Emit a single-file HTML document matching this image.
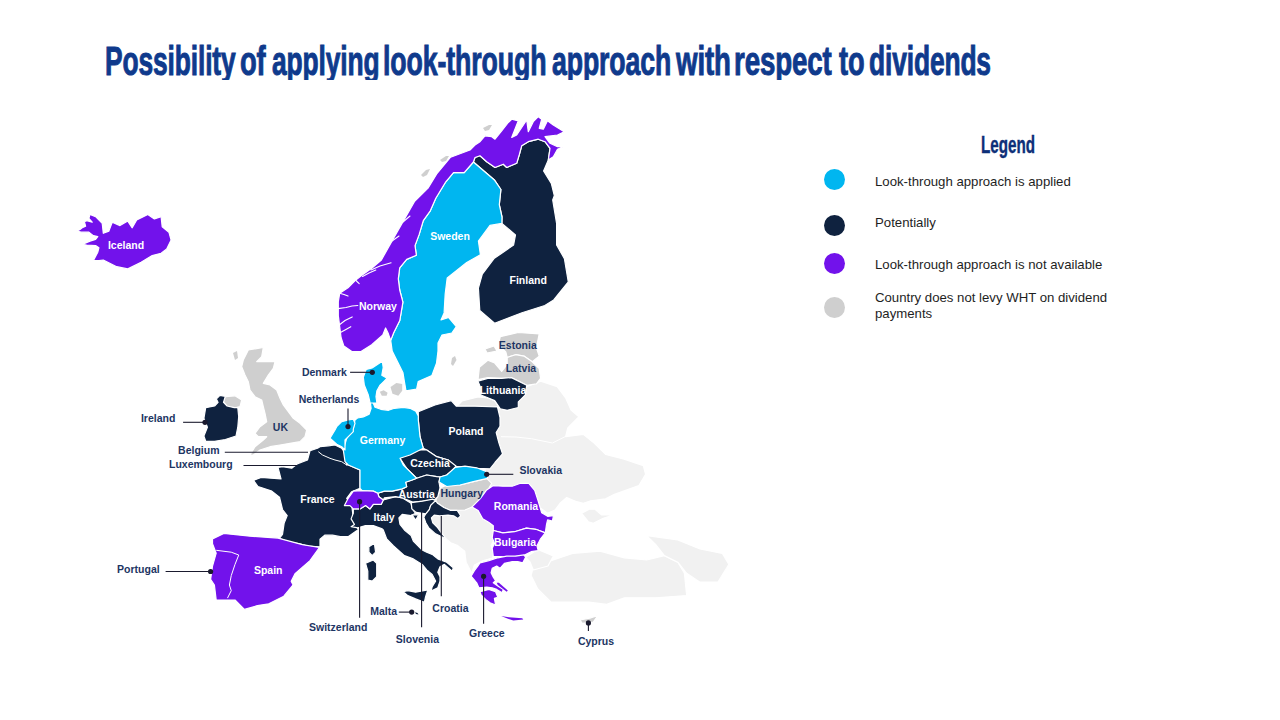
<!DOCTYPE html>
<html><head><meta charset="utf-8">
<style>
html,body{margin:0;padding:0;background:#fff;}
body{width:1280px;height:720px;position:relative;overflow:hidden;font-family:"Liberation Sans",sans-serif;}
.tclip{position:absolute;left:0;top:0;width:1280px;height:80px;overflow:hidden;}
.tw{position:absolute;top:37px;font-weight:bold;font-size:41px;line-height:48px;color:#0f3a8c;white-space:nowrap;transform-origin:0 0;-webkit-text-stroke:1px #0f3a8c;letter-spacing:-0.2px;}
svg{position:absolute;left:0;top:0;}
.lb{position:absolute;font-weight:bold;font-size:10.5px;line-height:12px;white-space:nowrap;transform:translate(-50%,-50%);}
.leg{position:absolute;left:875px;font-size:13.2px;line-height:16px;color:#1e1e1e;white-space:nowrap;}
.dot{position:absolute;left:824px;width:21px;height:21px;border-radius:50%;}
.lt{position:absolute;left:981px;top:130px;font-weight:bold;font-size:23px;line-height:30px;color:#0d2f78;transform-origin:0 0;transform:scaleX(0.66);white-space:nowrap;-webkit-text-stroke:0.4px #0d2f78;}
</style></head><body>
<div class="tclip"><div class="tw" style="left:104.71px;transform:scaleX(0.6436)">Possibility</div>
<div class="tw" style="left:239.93px;transform:scaleX(0.6684)">of</div>
<div class="tw" style="left:271.60px;transform:scaleX(0.6436)">applying</div>
<div class="tw" style="left:383.09px;transform:scaleX(0.6526)">look-through</div>
<div class="tw" style="left:552.20px;transform:scaleX(0.6508)">approach</div>
<div class="tw" style="left:676.00px;transform:scaleX(0.6750)">with</div>
<div class="tw" style="left:734.25px;transform:scaleX(0.6755)">respect</div>
<div class="tw" style="left:838.75px;transform:scaleX(0.6645)">to</div>
<div class="tw" style="left:869.06px;transform:scaleX(0.6431)">dividends</div></div>
<svg width="1280" height="720" viewBox="0 0 1280 720">
<path d="M526.7,386.7 L540.6,381.1 L557.2,386.7 L565.6,397.8 L571.0,410.0 L578.9,416.7 L567.8,427.8 L565.6,436.7 L583.3,434.4 L594.4,443.3 L605.6,454.4 L623.3,458.9 L643.3,465.6 L645.6,474.4 L638.9,485.6 L614.4,494.4 L605.6,498.9 L590.8,500.8 L583.3,503.3 L576.7,501.7 L566.7,497.5 L560.0,503.3 L555.0,510.0 L547.5,513.3 L530.0,500.0 L500.0,495.0 L480.0,490.0 L485.0,470.0 L490.0,440.0 L490.0,410.0 L505.0,398.0Z" fill="#f1f1f1" stroke="#fff" stroke-width="1.2" stroke-linejoin="round"/>
<path d="M581.7,513.3 L589.2,509.2 L595.0,509.2 L601.7,515.0 L613.3,515.0 L603.3,518.3 L593.3,523.3 L588.3,521.7Z" fill="#f1f1f1" stroke="#fff" stroke-width="1.2" stroke-linejoin="round"/>
<path d="M456.7,406.7 L462.0,401.0 L478.0,397.0 L487.8,397.8 L494.7,400.6 L500.3,408.9 L496.7,406.7Z" fill="#e6e6e6" stroke="#fff" stroke-width="1.2" stroke-linejoin="round"/>
<path d="M428.0,520.0 L430.0,512.0 L436.0,506.0 L460.0,500.0 L471.7,500.0 L480.0,505.0 L482.8,516.4 L491.1,520.6 L493.9,528.9 L493.9,540.0 L491.1,545.6 L493.9,553.9 L492.5,558.0 L482.8,560.8 L474.4,565.0 L471.7,573.3 L466.1,562.2 L464.7,551.1 L457.8,545.6 L450.8,542.8 L446.7,539.4 L441.8,536.7 L435.6,533.9 L428.6,527.6Z" fill="#f1f1f1" stroke="#fff" stroke-width="1.2" stroke-linejoin="round"/>
<path d="M533.3,566.7 L553.3,560.0 L573.3,553.3 L600.0,551.1 L624.4,557.8 L646.7,560.0 L664.4,555.6 L677.8,562.2 L684.4,573.3 L686.7,595.6 L655.6,597.8 L624.4,597.8 L606.7,604.4 L588.9,602.2 L566.7,602.2 L551.1,602.2 L537.8,588.9 L531.1,575.6Z" fill="#f1f1f1" stroke="#fff" stroke-width="1.2" stroke-linejoin="round"/>
<path d="M525.6,557.2 L537.8,549.4 L553.3,556.0 L548.0,566.0 L533.3,570.0 L530.0,562.0Z" fill="#f1f1f1" stroke="#fff" stroke-width="1.2" stroke-linejoin="round"/>
<path d="M646.7,535.6 L677.8,540.0 L700.0,548.9 L722.2,553.3 L728.9,564.4 L717.8,582.2 L700.0,582.2 L686.7,573.3 L677.8,562.2 L664.4,555.6 L655.6,544.4Z" fill="#f1f1f1" stroke="#fff" stroke-width="1.2" stroke-linejoin="round"/>
<path d="M248.3,350.0 L263.3,347.5 L261.7,356.7 L256.7,361.7 L275.0,361.7 L273.3,368.3 L268.3,375.0 L263.3,383.3 L270.0,385.0 L276.7,390.0 L280.0,398.3 L283.3,405.0 L288.3,411.7 L293.3,418.3 L300.0,423.3 L306.7,430.0 L305.0,436.7 L300.0,441.7 L290.0,443.3 L280.0,445.0 L270.0,446.7 L260.0,450.0 L253.3,455.0 L250.0,455.0 L255.0,446.7 L263.3,440.0 L266.7,436.7 L258.3,436.7 L255.0,433.3 L260.0,426.7 L266.7,421.7 L265.0,413.3 L263.3,406.7 L261.7,400.0 L255.0,396.7 L250.0,390.0 L248.3,381.7 L245.0,375.0 L241.7,366.7 L243.3,360.0 L246.7,353.3Z" fill="#cfcfcf" stroke="#fff" stroke-width="1.2" stroke-linejoin="round"/>
<path d="M233.0,353.0 L237.0,351.0 L238.0,358.0 L235.0,360.0Z" fill="#cfcfcf"/>
<path d="M225.0,396.7 L235.0,395.8 L241.7,400.0 L240.0,406.7 L233.3,408.3 L226.7,406.7 L223.3,401.7Z" fill="#cfcfcf" stroke="#fff" stroke-width="1.2" stroke-linejoin="round"/>
<path d="M500.3,336.7 L518.3,332.5 L539.2,333.9 L537.8,340.8 L536.4,347.8 L539.2,356.1 L532.2,361.7 L523.9,356.1 L515.6,354.7 L507.2,357.5 L505.8,351.9 L501.7,347.8 L498.9,342.2Z" fill="#cfcfcf" stroke="#fff" stroke-width="1.2" stroke-linejoin="round"/>
<path d="M485.0,349.0 L494.0,346.0 L497.0,351.0 L487.0,353.0Z" fill="#cfcfcf" stroke="#fff" stroke-width="1.2" stroke-linejoin="round"/>
<path d="M478.0,379.7 L479.4,367.2 L487.8,360.3 L494.7,363.0 L501.7,371.4 L507.2,364.4 L507.2,357.5 L515.6,354.7 L523.9,356.1 L532.2,361.7 L539.2,368.6 L540.6,378.3 L536.4,383.9 L526.7,385.3 L512.8,378.3 L501.7,378.3 L487.8,377.6Z" fill="#cfcfcf" stroke="#fff" stroke-width="1.2" stroke-linejoin="round"/>
<path d="M440.0,488.3 L446.7,485.0 L460.0,485.0 L473.3,481.7 L486.7,478.3 L491.7,483.3 L485.0,495.0 L476.7,505.0 L465.0,510.0 L457.1,510.3 L450.1,510.3 L443.9,507.5 L437.6,503.3 L435.6,500.6 L438.3,495.0Z" fill="#cfcfcf" stroke="#fff" stroke-width="1.2" stroke-linejoin="round"/>
<path d="M580.0,620.0 L591.1,617.8 L597.8,615.6 L593.3,622.2 L582.2,623.3Z" fill="#cfcfcf" stroke="#fff" stroke-width="1.2" stroke-linejoin="round"/>
<path d="M379.8,391.8 L383.7,390.3 L387.6,392.8 L386.6,395.7 L381.8,395.7Z" fill="#cfcfcf"/>
<path d="M390.5,386.9 L396.4,383.0 L402.2,384.0 L402.2,390.8 L398.3,395.7 L392.5,393.7Z" fill="#cfcfcf"/>
<path d="M548.3,160.0 L543.6,171.0 L551.3,183.4 L554.3,195.6 L552.7,200.0 L556.6,223.4 L556.6,245.0 L564.4,258.6 L568.3,282.0 L553.7,300.0 L544.8,305.5 L522.0,312.7 L494.6,323.2 L479.8,310.5 L478.4,288.0 L482.3,274.2 L494.0,258.6 L513.6,245.0 L515.5,235.0 L501.9,223.4 L502.0,217.0 L499.3,204.7 L500.9,189.5 L494.7,180.3 L473.4,162.0 L475.0,157.5 L480.0,155.8 L486.7,161.7 L495.0,167.5 L503.3,164.2 L506.7,167.5 L516.7,163.3 L519.2,155.0 L521.7,145.8 L528.3,141.7 L538.3,139.2 L545.0,141.7 L550.0,148.3Z" fill="#0f223f" stroke="#fff" stroke-width="1.2" stroke-linejoin="round"/>
<path d="M478.0,381.1 L487.8,378.3 L501.7,378.3 L511.4,377.6 L526.7,385.3 L525.3,395.0 L518.3,401.9 L518.3,407.5 L507.2,410.3 L500.3,408.9 L494.7,400.6 L487.8,397.8 L480.8,395.0 L480.8,388.1Z" fill="#0f223f" stroke="#fff" stroke-width="1.2" stroke-linejoin="round"/>
<path d="M418.3,411.7 L435.0,405.0 L451.2,400.6 L456.2,406.2 L475.0,406.2 L497.5,407.0 L500.0,417.5 L500.0,426.2 L496.2,432.5 L498.8,442.5 L502.5,453.8 L495.0,462.5 L490.0,468.8 L476.7,468.3 L465.0,466.7 L455.0,466.7 L448.3,460.0 L436.7,456.7 L426.7,450.0 L423.3,448.3 L420.0,436.7 L418.3,420.0Z" fill="#0f223f" stroke="#fff" stroke-width="1.2" stroke-linejoin="round"/>
<path d="M219.9,395.4 L225.3,396.3 L223.5,402.4 L227.1,406.0 L234.2,407.7 L237.8,407.7 L238.7,416.6 L237.8,427.2 L236.0,436.0 L225.3,439.5 L214.6,441.3 L205.7,441.3 L203.9,436.0 L207.4,427.2 L203.9,418.3 L205.7,407.7 L214.6,406.0 L218.1,402.4 L216.4,398.9Z" fill="#0f223f" stroke="#fff" stroke-width="1.2" stroke-linejoin="round"/>
<path d="M310.0,450.8 L317.5,448.3 L320.0,446.7 L328.3,445.8 L335.0,445.0 L341.7,448.3 L345.0,452.5 L345.8,458.3 L346.7,465.0 L348.3,465.0 L360.0,470.0 L360.0,478.3 L360.0,488.3 L351.7,491.7 L346.7,498.3 L351.7,505.0 L353.3,518.3 L356.7,526.7 L358.3,529.7 L355.9,531.2 L348.1,536.7 L340.3,536.7 L332.5,535.2 L324.7,535.2 L320.0,539.1 L320.0,546.9 L307.5,546.1 L299.7,543.8 L289.5,542.2 L279.4,538.3 L282.5,534.4 L284.1,523.4 L287.2,515.6 L282.5,509.5 L279.5,497.2 L271.8,491.1 L258.0,486.5 L253.5,480.4 L261.1,477.4 L281.0,478.9 L278.0,467.4 L282.5,466.7 L291.7,468.2 L297.8,463.6 L307.5,460.0Z" fill="#0f223f" stroke="#fff" stroke-width="1.2" stroke-linejoin="round"/>
<path d="M368.9,546.7 L374.4,543.3 L375.6,552.2 L372.2,555.6 L368.9,552.2Z" fill="#0f223f" stroke="#fff" stroke-width="1.2" stroke-linejoin="round"/>
<path d="M351.1,526.7 L354.4,524.4 L351.1,518.9 L353.3,513.3 L353.3,508.9 L360.0,508.9 L365.6,505.6 L370.0,508.9 L373.3,504.4 L381.1,504.4 L383.3,500.0 L395.6,496.7 L402.2,497.8 L411.1,503.3 L412.2,508.9 L415.6,513.3 L411.1,515.6 L402.2,514.4 L398.9,517.8 L400.0,524.4 L404.4,530.0 L411.1,535.6 L413.3,541.1 L422.2,550.0 L426.7,552.2 L432.2,554.4 L437.8,558.9 L446.7,562.2 L453.3,567.8 L452.2,571.1 L444.4,564.4 L440.0,566.7 L437.8,572.2 L440.0,576.7 L440.0,581.1 L437.8,587.8 L431.1,591.1 L432.2,586.7 L435.6,581.1 L432.2,574.4 L426.7,570.0 L422.2,564.4 L413.3,558.9 L404.4,555.6 L393.3,545.6 L386.7,538.9 L383.3,530.0 L382.2,528.9 L373.3,525.6 L365.6,525.6 L357.8,527.8Z" fill="#0f223f" stroke="#fff" stroke-width="1.2" stroke-linejoin="round"/>
<path d="M403.3,591.7 L407.8,590.6 L415.6,592.2 L427.8,590.0 L425.6,596.7 L424.4,602.2 L415.6,598.9 L407.8,595.6Z" fill="#0f223f" stroke="#fff" stroke-width="1.2" stroke-linejoin="round"/>
<path d="M365.6,563.3 L373.3,560.0 L376.7,563.3 L376.7,576.7 L372.2,581.1 L367.8,580.0 L367.8,571.1Z" fill="#0f223f" stroke="#fff" stroke-width="1.2" stroke-linejoin="round"/>
<path d="M415.0,612.2 L417.5,613.0 L418.5,614.5 L416.0,614.0Z" fill="#0f223f"/>
<path d="M400.0,458.3 L413.3,450.0 L426.7,450.0 L436.7,456.7 L448.3,460.0 L456.0,466.0 L452.0,471.0 L446.7,475.0 L440.0,477.0 L436.7,476.7 L426.7,475.0 L416.7,478.3 L406.7,468.3Z" fill="#0f223f" stroke="#fff" stroke-width="1.2" stroke-linejoin="round"/>
<path d="M377.8,493.3 L384.4,491.1 L392.2,491.1 L402.2,488.9 L406.7,486.7 L405.6,482.2 L412.2,480.0 L416.7,478.3 L426.7,475.0 L436.7,476.7 L440.0,477.0 L439.0,482.0 L440.0,488.0 L437.8,496.7 L434.4,500.0 L424.4,501.1 L413.3,502.2 L402.2,497.8 L395.6,496.7 L384.4,497.8 L383.3,500.0 L378.9,496.7Z" fill="#0f223f" stroke="#fff" stroke-width="1.2" stroke-linejoin="round"/>
<path d="M411.2,502.6 L422.4,501.2 L432.8,499.2 L435.6,500.6 L430.7,505.4 L429.3,509.6 L425.8,513.8 L421.0,513.0 L416.1,512.4 L411.9,508.9Z" fill="#0f223f" stroke="#fff" stroke-width="1.2" stroke-linejoin="round"/>
<path d="M435.6,500.6 L437.6,503.3 L443.9,507.5 L450.1,510.3 L457.1,510.3 L460.6,515.8 L457.8,518.6 L453.6,515.8 L448.0,515.1 L439.7,515.8 L434.2,515.1 L431.4,517.9 L432.8,522.8 L437.6,527.6 L441.1,532.5 L446.7,539.4 L441.8,536.7 L435.6,533.9 L428.6,527.6 L425.8,522.8 L423.8,517.2 L425.8,513.8 L429.3,509.6 L430.7,505.4Z" fill="#0f223f" stroke="#fff" stroke-width="1.2" stroke-linejoin="round"/>
<path d="M412.0,514.8 L418.8,514.8 L415.6,520.0Z" fill="#0f223f" stroke="#fff" stroke-width="1.2" stroke-linejoin="round"/>
<path d="M473.4,162.0 L494.7,180.3 L500.9,189.5 L499.3,204.7 L502.0,217.0 L501.9,223.4 L490.0,225.4 L478.4,241.0 L480.4,254.7 L466.7,262.5 L447.2,278.0 L445.2,293.8 L444.1,312.9 L441.0,320.0 L448.7,317.5 L456.3,326.6 L451.8,333.0 L442.0,335.0 L438.0,343.0 L438.0,351.1 L436.5,363.3 L431.9,375.5 L418.2,381.6 L416.6,389.2 L406.0,390.8 L404.4,381.6 L402.9,372.4 L396.8,360.2 L392.2,351.1 L390.7,340.4 L393.7,332.7 L399.8,320.5 L402.9,302.2 L399.7,290.0 L398.3,278.9 L399.7,267.8 L406.7,259.4 L416.4,255.3 L415.0,245.6 L419.2,234.4 L423.3,220.6 L430.3,210.8 L435.8,198.3 L445.8,181.8 L453.5,172.7 L464.2,172.7Z" fill="#00b6f0" stroke="#fff" stroke-width="1.2" stroke-linejoin="round"/>
<path d="M452.0,358.0 L455.0,356.0 L456.5,360.0 L453.0,366.0 L451.0,364.0Z" fill="#cfcfcf"/>
<path d="M370.1,400.5 L373.0,402.5 L375.0,407.3 L380.8,409.3 L388.6,410.3 L394.4,408.3 L403.2,407.3 L410.0,408.3 L415.8,411.2 L418.3,416.0 L418.3,420.0 L420.0,436.7 L423.3,448.3 L410.0,455.0 L400.0,458.3 L403.3,465.0 L410.0,471.7 L416.7,478.3 L412.2,480.0 L405.6,482.2 L406.7,486.7 L402.2,488.9 L392.2,491.1 L384.4,491.1 L377.8,493.3 L373.3,491.1 L362.2,490.6 L360.0,488.3 L360.0,478.3 L360.0,470.0 L348.3,465.0 L345.0,461.7 L343.3,450.0 L346.7,438.3 L353.3,428.3 L355.0,420.0 L357.5,418.0 L363.3,417.0 L369.2,414.1 L371.1,408.3Z" fill="#00b6f0" stroke="#fff" stroke-width="1.2" stroke-linejoin="round"/>
<path d="M366.2,369.4 L372.1,368.0 L382.3,361.2 L383.2,367.5 L381.8,375.3 L387.1,378.2 L383.7,381.6 L379.8,385.5 L376.9,390.8 L376.0,396.6 L376.9,403.0 L370.1,403.0 L368.2,394.7 L364.3,385.0 L363.3,377.2Z" fill="#00b6f0" stroke="#fff" stroke-width="1.2" stroke-linejoin="round"/>
<path d="M330.0,438.3 L335.0,430.0 L336.7,426.7 L341.7,421.7 L348.3,420.0 L353.3,419.2 L355.0,423.3 L353.3,429.2 L353.3,431.7 L348.3,436.7 L345.0,440.0 L345.0,450.0 L341.7,446.7 L336.7,444.2Z" fill="#00b6f0" stroke="#fff" stroke-width="1.2" stroke-linejoin="round"/>
<path d="M440.0,477.0 L446.7,475.0 L455.0,467.5 L465.0,466.2 L476.7,467.8 L486.7,471.7 L487.5,478.3 L473.3,481.7 L460.0,485.0 L446.7,486.5 L439.0,482.0Z" fill="#00b6f0" stroke="#fff" stroke-width="1.2" stroke-linejoin="round"/>
<path d="M103.3,233.3 L102.2,223.3 L97.8,218.9 L95.6,216.7 L90.0,214.4 L88.9,218.3 L92.2,222.2 L86.7,220.6 L84.4,221.7 L85.6,226.1 L82.2,227.8 L80.0,229.4 L76.7,231.1 L81.1,232.2 L88.9,232.2 L93.3,235.6 L97.8,236.7 L95.6,239.4 L90.0,241.1 L82.2,244.4 L86.7,245.0 L95.6,245.6 L98.9,247.8 L97.8,252.2 L93.3,260.6 L98.9,260.6 L103.3,260.0 L116.7,266.7 L127.8,268.9 L141.1,262.2 L152.2,255.6 L161.1,253.3 L166.7,248.9 L171.1,240.0 L168.9,232.2 L162.2,226.7 L161.1,216.7 L154.4,218.9 L147.8,214.4 L136.7,220.0 L132.2,227.8 L127.8,221.1 L120.0,225.6 L112.2,222.2 L108.9,231.1Z" fill="#7212eb" stroke="#fff" stroke-width="1.2" stroke-linejoin="round"/>
<path d="M352.2,351.7 L343.9,346.1 L341.1,337.8 L339.7,326.7 L338.3,315.6 L338.3,301.7 L339.7,293.3 L348.0,287.8 L356.4,279.4 L361.9,275.3 L371.7,268.3 L381.4,260.0 L392.2,240.6 L403.3,221.1 L414.4,201.7 L428.3,187.8 L436.7,173.9 L450.6,157.2 L470.0,150.0 L475.0,145.0 L480.0,141.7 L485.0,135.8 L491.7,136.7 L495.0,139.2 L501.7,130.8 L508.3,122.5 L511.7,119.2 L518.3,120.8 L511.7,137.5 L516.7,135.0 L526.7,120.0 L528.3,131.7 L533.3,121.7 L538.3,116.7 L541.7,119.2 L539.2,128.3 L543.3,129.2 L547.5,120.8 L553.3,125.0 L564.2,131.7 L557.5,135.0 L545.0,136.7 L550.0,143.3 L557.5,146.7 L563.3,146.7 L557.5,149.2 L553.3,156.7 L548.3,160.0 L550.0,148.3 L545.0,141.7 L538.3,139.2 L528.3,141.7 L521.7,145.8 L519.2,155.0 L516.7,163.3 L506.7,167.5 L503.3,164.2 L495.0,167.5 L486.7,161.7 L480.0,155.8 L475.0,157.5 L473.4,162.0 L464.2,172.7 L453.5,172.7 L445.8,181.8 L435.8,198.3 L430.3,210.8 L423.3,220.6 L419.2,234.4 L415.0,245.6 L416.4,255.3 L406.7,259.4 L399.7,267.8 L398.3,278.9 L399.7,290.0 L402.9,302.2 L399.8,320.5 L393.7,332.7 L390.7,340.4 L388.3,333.6 L385.6,328.0 L382.8,335.0 L371.7,344.7 L360.6,351.7Z" fill="#7212eb" stroke="#fff" stroke-width="1.2" stroke-linejoin="round"/>
<path d="M421.0,175.0 L426.0,170.0 L430.0,169.0 L427.0,175.0 L423.0,177.0Z" fill="#cfcfcf"/>
<path d="M440.0,160.0 L446.0,156.0 L449.0,156.0 L446.0,161.0 L442.0,162.0Z" fill="#cfcfcf"/>
<path d="M483.0,128.0 L489.0,125.0 L492.0,125.0 L489.0,130.0 L485.0,131.0Z" fill="#cfcfcf"/>
<path d="M212.5,539.0 L223.8,533.4 L250.0,536.2 L278.1,538.1 L302.5,544.7 L319.4,547.5 L310.0,560.6 L295.0,573.8 L291.2,581.2 L293.1,585.0 L283.8,596.2 L268.8,603.8 L257.5,605.6 L244.4,609.4 L235.0,600.0 L216.2,600.0 L214.4,585.0 L210.6,579.4 L212.5,566.2 L216.2,553.1 L212.5,543.8Z" fill="#7212eb" stroke="#fff" stroke-width="1.2" stroke-linejoin="round"/>
<path d="M344.4,505.6 L347.8,498.9 L353.3,491.1 L362.2,490.6 L373.3,491.1 L377.8,493.3 L378.9,496.7 L383.3,500.0 L381.1,504.4 L373.3,504.4 L370.0,508.9 L365.6,505.6 L360.0,508.9 L353.3,508.9 L350.0,505.6Z" fill="#7212eb" stroke="#fff" stroke-width="1.2" stroke-linejoin="round"/>
<path d="M472.1,506.9 L480.3,498.6 L486.3,490.3 L493.3,485.6 L502.8,486.2 L512.2,486.2 L520.5,483.3 L528.8,483.3 L534.7,490.3 L538.2,501.0 L541.7,512.8 L547.6,516.3 L553.5,515.7 L552.4,521.0 L547.6,519.9 L546.5,524.6 L545.3,532.9 L535.8,529.3 L526.4,528.1 L514.6,531.7 L502.8,532.9 L493.3,530.5 L493.3,525.8 L488.6,522.2 L482.7,518.7 L478.0,510.4Z" fill="#7212eb" stroke="#fff" stroke-width="1.2" stroke-linejoin="round"/>
<path d="M493.3,530.5 L502.8,532.9 L514.6,531.7 L526.4,528.1 L535.8,529.3 L545.3,532.9 L540.6,538.8 L537.0,545.8 L538.2,550.6 L531.1,551.7 L524.0,555.3 L514.6,556.5 L504.0,556.5 L493.3,556.5 L492.2,548.2 L494.5,543.5 L492.2,537.6Z" fill="#7212eb" stroke="#fff" stroke-width="1.2" stroke-linejoin="round"/>
<path d="M480.0,562.8 L488.9,560.6 L497.8,557.8 L506.7,556.1 L515.6,556.1 L523.9,554.8 L525.6,557.2 L522.8,562.8 L517.8,561.7 L512.2,561.7 L504.4,563.3 L500.0,568.3 L496.7,566.1 L492.2,568.3 L491.1,572.8 L493.3,577.2 L495.6,580.6 L493.3,582.8 L497.8,586.1 L503.3,589.4 L502.2,592.8 L496.7,589.4 L492.2,587.8 L486.7,587.2 L478.9,587.8 L476.7,582.8 L471.1,576.1 L474.4,570.6 L477.8,566.1Z" fill="#7212eb" stroke="#fff" stroke-width="1.2" stroke-linejoin="round"/>
<path d="M480.0,591.7 L488.9,589.4 L495.6,591.7 L497.8,597.2 L494.4,598.3 L495.6,605.0 L490.0,602.8 L485.6,599.4 L481.1,595.0Z" fill="#7212eb" stroke="#fff" stroke-width="1.2" stroke-linejoin="round"/>
<path d="M496.7,582.8 L498.9,582.8 L507.8,590.6 L506.7,591.7 L497.8,585.0Z" fill="#7212eb"/>
<path d="M501.1,616.1 L508.9,617.2 L522.2,618.3 L523.3,619.4 L513.3,620.6 L506.7,618.3Z" fill="#7212eb"/>
<polyline points="216.25,550.3 231.25,552.2 238.75,555 235,564.4 231.25,575.6 229.4,585 231.25,590.6 227.5,598.1" fill="none" stroke="#fff" stroke-width="1"/>
<polyline points="338,308.6 346,307.5 352,306 357.8,305.5" fill="none" stroke="#fff" stroke-width="1.1" stroke-linecap="round"/>
<polyline points="339.7,293.3 344,294.5 348,296.1" fill="none" stroke="#fff" stroke-width="1.1" stroke-linecap="round"/>
<polyline points="338.5,325.5 345,320.5 352.2,316.9" fill="none" stroke="#fff" stroke-width="1.1" stroke-linecap="round"/>
<polyline points="339.5,333 345,330 350.8,326.7" fill="none" stroke="#fff" stroke-width="1.1" stroke-linecap="round"/>
<polyline points="355,279.4 357,281.5 359.2,283.6" fill="none" stroke="#fff" stroke-width="1.1" stroke-linecap="round"/>
<polyline points="371,270 380,266 391.1,262.8" fill="none" stroke="#fff" stroke-width="1.1" stroke-linecap="round"/>
<polyline points="362.5,276.5 369,273 375.8,270" fill="none" stroke="#fff" stroke-width="1.1" stroke-linecap="round"/>
<polyline points="403,222 410,216" fill="none" stroke="#fff" stroke-width="1.1" stroke-linecap="round"/>
<polyline points="392,241 399,236" fill="none" stroke="#fff" stroke-width="1.1" stroke-linecap="round"/>
<polyline points="501,436.7 516,437 531.7,438.75 552.5,443 569.2,434.6" fill="none" stroke="#fff" stroke-width="1"/>
<polyline points="318.3,451.7 322.5,455 330,458.3 335,460 341.7,461.7 346.7,465" fill="none" stroke="#fff" stroke-width="1"/>
<line x1="350.1" y1="372.3" x2="372.3" y2="372.3" stroke="#1a1a2e" stroke-width="1.1"/>
<line x1="348" y1="408.6" x2="348" y2="426.6" stroke="#1a1a2e" stroke-width="1.1"/>
<line x1="183.1" y1="422.3" x2="205" y2="422.3" stroke="#1a1a2e" stroke-width="1.1"/>
<line x1="224.8" y1="452.3" x2="308" y2="452.3" stroke="#1a1a2e" stroke-width="1.1"/>
<line x1="243.5" y1="465.5" x2="297" y2="465.5" stroke="#1a1a2e" stroke-width="1.1"/>
<line x1="165.6" y1="571.5" x2="210.6" y2="571.5" stroke="#1a1a2e" stroke-width="1.1"/>
<line x1="486.7" y1="474.3" x2="513.3" y2="474.3" stroke="#1a1a2e" stroke-width="1.1"/>
<line x1="359.6" y1="501.7" x2="359.6" y2="617.8" stroke="#1a1a2e" stroke-width="1.1"/>
<line x1="421.6" y1="512" x2="421.6" y2="627.3" stroke="#1a1a2e" stroke-width="1.1"/>
<line x1="441.3" y1="516" x2="441.3" y2="596.3" stroke="#1a1a2e" stroke-width="1.1"/>
<line x1="483.6" y1="576.3" x2="483.6" y2="623.8" stroke="#1a1a2e" stroke-width="1.1"/>
<line x1="398.8" y1="612.1" x2="411.7" y2="612.1" stroke="#1a1a2e" stroke-width="1.1"/>
<line x1="588.4" y1="622.9" x2="588.4" y2="631.1" stroke="#1a1a2e" stroke-width="1.1"/>
<circle cx="372.3" cy="372.3" r="2.6" fill="#1a1a2e"/>
<circle cx="348" cy="426.6" r="2.6" fill="#1a1a2e"/>
<circle cx="205" cy="422.3" r="2.6" fill="#1a1a2e"/>
<circle cx="210.6" cy="571.5" r="2.6" fill="#1a1a2e"/>
<circle cx="486.7" cy="474.3" r="2.6" fill="#1a1a2e"/>
<circle cx="359.6" cy="501.7" r="2.6" fill="#1a1a2e"/>
<circle cx="483.6" cy="576.3" r="2.6" fill="#1a1a2e"/>
<circle cx="411.7" cy="612.1" r="2.6" fill="#1a1a2e"/>
<circle cx="588.4" cy="622.9" r="2.6" fill="#1a1a2e"/>
</svg>
<div class="lb" style="left:126.0px;top:245.0px;color:#ffffff">Iceland</div>
<div class="lb" style="left:450.0px;top:236.0px;color:#ffffff">Sweden</div>
<div class="lb" style="left:528.2px;top:280.0px;color:#ffffff">Finland</div>
<div class="lb" style="left:378.0px;top:306.4px;color:#ffffff">Norway</div>
<div class="lb" style="left:517.8px;top:344.5px;color:#1d3563">Estonia</div>
<div class="lb" style="left:521.0px;top:368.4px;color:#1d3563">Latvia</div>
<div class="lb" style="left:503.0px;top:389.6px;color:#ffffff">Lithuania</div>
<div class="lb" style="left:466.0px;top:431.0px;color:#ffffff">Poland</div>
<div class="lb" style="left:324.4px;top:371.5px;color:#1d3563">Denmark</div>
<div class="lb" style="left:329.0px;top:399.4px;color:#1d3563">Netherlands</div>
<div class="lb" style="left:158.1px;top:418.4px;color:#1d3563">Ireland</div>
<div class="lb" style="left:280.4px;top:427.2px;color:#1d3563">UK</div>
<div class="lb" style="left:198.8px;top:449.6px;color:#1d3563">Belgium</div>
<div class="lb" style="left:200.8px;top:464.0px;color:#1d3563">Luxembourg</div>
<div class="lb" style="left:382.5px;top:440.3px;color:#ffffff">Germany</div>
<div class="lb" style="left:430.0px;top:463.3px;color:#ffffff">Czechia</div>
<div class="lb" style="left:540.7px;top:470.3px;color:#1d3563">Slovakia</div>
<div class="lb" style="left:317.5px;top:499.0px;color:#ffffff">France</div>
<div class="lb" style="left:416.7px;top:493.7px;color:#ffffff">Austria</div>
<div class="lb" style="left:461.7px;top:492.9px;color:#1d3563">Hungary</div>
<div class="lb" style="left:384.0px;top:517.0px;color:#ffffff">Italy</div>
<div class="lb" style="left:516.0px;top:506.0px;color:#ffffff">Romania</div>
<div class="lb" style="left:515.0px;top:542.0px;color:#ffffff">Bulgaria</div>
<div class="lb" style="left:268.2px;top:569.6px;color:#ffffff">Spain</div>
<div class="lb" style="left:138.4px;top:568.8px;color:#1d3563">Portugal</div>
<div class="lb" style="left:338.2px;top:627.3px;color:#1d3563">Switzerland</div>
<div class="lb" style="left:383.7px;top:611.3px;color:#1d3563">Malta</div>
<div class="lb" style="left:417.4px;top:638.5px;color:#1d3563">Slovenia</div>
<div class="lb" style="left:450.4px;top:608.4px;color:#1d3563">Croatia</div>
<div class="lb" style="left:486.8px;top:633.0px;color:#1d3563">Greece</div>
<div class="lb" style="left:596.0px;top:641.4px;color:#1d3563">Cyprus</div>
<div class="lt">Legend</div>
<div class="dot" style="top:169px;background:#00b6f0"></div>
<div class="dot" style="top:215px;background:#0f223f"></div>
<div class="dot" style="top:253px;background:#7212eb"></div>
<div class="dot" style="top:297px;background:#cfcfcf"></div>
<div class="leg" style="top:174px">Look-through approach is applied</div>
<div class="leg" style="top:215px">Potentially</div>
<div class="leg" style="top:256.7px">Look-through approach is not available</div>
<div class="leg" style="top:289.7px">Country does not levy WHT on dividend<br>payments</div>
</body></html>
